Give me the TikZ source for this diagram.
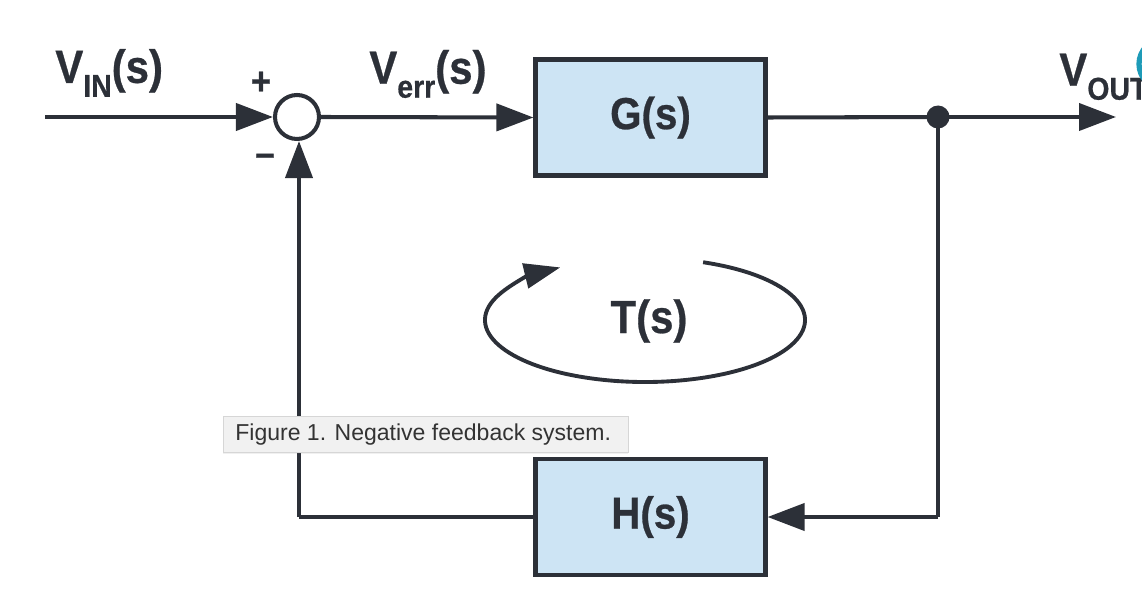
\documentclass[tikz,border=0pt]{standalone}
\usepackage{fontspec}
\setmainfont{Liberation Sans}
\newfontfamily\lblfont[FakeStretch=0.9,FakeBold=0.6]{Liberation Sans Bold}
\newfontfamily\tipfont{Liberation Sans}
\usetikzlibrary{arrows.meta,calc,shadows}
\definecolor{ink}{HTML}{2C3038}
\definecolor{boxfill}{HTML}{CDE4F4}
\definecolor{tipfill}{HTML}{F1F1F1}
\definecolor{tipline}{HTML}{D6D6D6}
\definecolor{tiptext}{HTML}{333333}
\definecolor{teal}{HTML}{1E9BB8}
\tikzset{
  wire/.style={draw=ink, line width=2.3pt},
  arr/.style={wire, -{Triangle[length=0.74cm,width=0.54cm]}},
  blockbox/.style={draw=ink, line width=2.4pt, fill=boxfill, minimum width=4.6cm, minimum height=2.32cm, inner sep=0pt, font=\lblfont\fontsize{25.5}{28}\selectfont, text=ink},
  sumnode/.style={circle, draw=ink, line width=2.3pt, fill=white, minimum size=0.88cm, inner sep=0pt},
  dotnode/.style={circle, fill=ink, minimum size=0.46cm, inner sep=0pt},
  lbl/.style={font=\lblfont\fontsize{26.5}{29}\selectfont, text=ink, inner sep=0pt},
  sgn/.style={font=\lblfont\fontsize{22}{24}\selectfont, text=ink, inner sep=0pt},
  tip/.style={draw=tipline, line width=0.5pt, fill=tipfill, font=\tipfont\fontsize{13.1}{15}\selectfont, text=tiptext, minimum width=8.1cm, minimum height=0.72cm, inner sep=0pt,
    drop shadow={opacity=0.12, shadow xshift=0pt, shadow yshift=-1.2pt}}
}
\newcommand{\subtxt}[1]{\raisebox{-0.3em}{\fontsize{18}{19}\selectfont #1}}
\begin{document}
\begin{tikzpicture}[x=0.02cm,y=-0.02cm]
\useasboundingbox (0,0) rectangle (1142,604);
\clip (0,0) rectangle (1142,604);
% nodes
\node[sumnode] (sum) at (297,117) {};
\node[blockbox] (G) at (650.5,117.5) {G(s)};
\node[blockbox] (H) at (650.5,517) {H(s)};
\node[dotnode] (dot) at (938,117) {};
\coordinate (in) at (45,117);
\coordinate (out) at (1116,117);
\coordinate (c1) at (938,517);
\coordinate (c2) at (299,517);
% connectors
\draw[arr] (in) -- (sum.west);
\draw[arr] (sum.east) -- (G.west);
\draw[wire] (G.east) -- (dot.center);
\draw[arr] (dot.center) -- (out);
\draw[wire] (dot.center) -- (c1);
\draw[arr] (c1) -- (H.east);
\draw[wire] (H.west) -- (c2);
\draw[arr] (c2) -- (c2 |- sum.south);
% loop arrow
\draw[draw=ink, line width=2.2pt, -{Triangle[length=0.72cm,width=0.5cm]}]
  ($(645,320)+(-68.7:160 and 62)$) arc[start angle=-68.7, end angle=238, x radius=160, y radius=62];
\node[lbl] (T) at (649,321) {T(s)};
% labels
\node[lbl, anchor=west] (vin) at (55,73) {V\subtxt{IN}(s)};
\node[lbl, anchor=west] (verr) at (369,74) {V\subtxt{err}(s)};
\node[lbl, anchor=west] (vout) at (1059,76) {V\subtxt{OUT}(s)};
\node[sgn] (plus) at (261,83) {+};
\node[sgn] (minus) at (265,160) {\textendash};
% tooltip
\node[tip] (tt) at (425.5,434) {};
\node[font=\tipfont\fontsize{13.1}{15}\selectfont, text=tiptext, anchor=west, inner sep=0pt] (ttext) at (235,435) {Figure 1. Negative feedback system.};
% teal artifact at the edge
\draw[teal, line width=3pt] (1164,64) circle[radius=25];
\end{tikzpicture}
\end{document}
